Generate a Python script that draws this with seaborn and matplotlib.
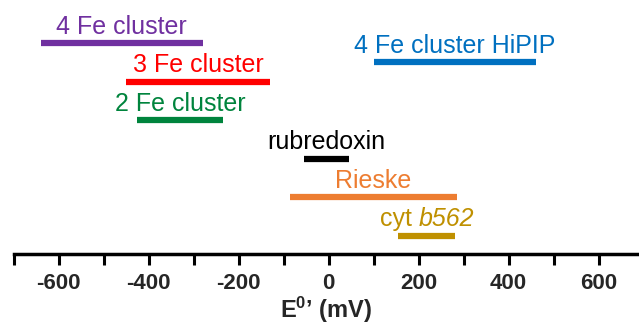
import matplotlib
matplotlib.use('Agg')
import matplotlib.pyplot as plt
import seaborn as sns
import pandas as pd

names = ["4 Fe cluster", "4 Fe cluster HiPIP", "3 Fe cluster", "2 Fe cluster",
         "rubredoxin", "Rieske", "cyt b562"]
low = [-640, 100, -450, -425, -55, -85, 155]
high = [-280, 460, -130, -235, 45, 285, 280]
rows = [0, 0.5, 1, 2, 3, 4, 5]
colors = ["#7030A0", "#0070C0", "#FF0000", "#00843D", "#000000", "#ED7D31", "#BF9000"]
labeled_ticks = [-600, -400, -200, 0, 200, 400, 600]
all_ticks = list(range(-700, 700, 100))

sns.set_theme(style='white')
plt.rcParams['font.family'] = ['Liberation Sans', 'DejaVu Sans']
plt.rcParams['mathtext.fontset'] = 'custom'
plt.rcParams['mathtext.rm'] = 'Liberation Sans'
plt.rcParams['mathtext.it'] = 'Liberation Sans:italic'
plt.rcParams['mathtext.bf'] = 'Liberation Sans:bold'

df = pd.DataFrame({'name': names * 2, 'E': low + high, 'row': rows * 2})

fig = plt.figure(figsize=(6.39, 3.26), dpi=100)
ax = fig.add_axes([13.5 / 639, 72 / 326, (639 - 13.5) / 639, 254 / 326])
sns.lineplot(data=df, x='E', y='row', hue='name', hue_order=names, palette=colors,
             units='name', estimator=None, sort=False, linewidth=4.5, legend=False,
             ax=ax, solid_capstyle='butt')

for lab, lo, hi, r, c in zip(names, low, high, rows, colors):
    mid = (lo + hi) / 2
    if lab == "cyt b562":
        ax.annotate("cyt", xy=(mid, r), xytext=(-10.7, 6.5), textcoords='offset points',
                    ha='right', va='baseline', color=c, fontsize=18)
        ax.annotate("b562", xy=(mid, r), xytext=(-5.7, 6.5), textcoords='offset points',
                    ha='left', va='baseline', color=c, fontsize=18, fontstyle='italic')
    else:
        ax.annotate(lab, xy=(mid, r), xytext=(0, 6.5), textcoords='offset points',
                    ha='center', va='baseline', color=c, fontsize=18)

ax.set_xlim(-700, 690)
ax.set_ylim(5.48, -1.117)
for s in ['left', 'top', 'right']:
    ax.spines[s].set_visible(False)
ax.spines['bottom'].set_linewidth(2.5)
ax.spines['bottom'].set_color('black')
ax.set_yticks([])
ax.set_ylabel('')
ax.set_xticks(all_ticks)
ax.set_xticklabels([str(t) if t in labeled_ticks else '' for t in all_ticks],
                   fontsize=16, fontweight='bold')
ax.tick_params(axis='x', direction='out', length=8, width=2.2, color='black',
               pad=5.5, bottom=True)
ax.set_xlabel(r"E$^{\mathbf{0}}$’ (mV)", fontsize=17, fontweight='bold', labelpad=1)

fig.savefig('out.png', dpi=100)
